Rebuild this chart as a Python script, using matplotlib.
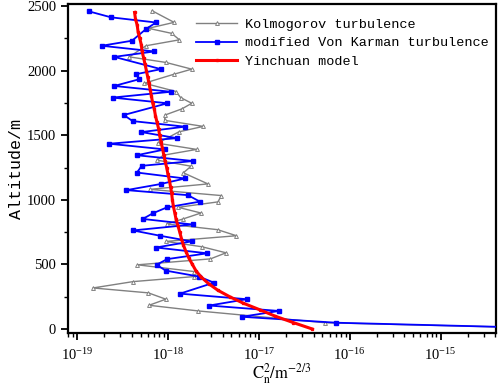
import matplotlib
matplotlib.use("Agg")
import matplotlib.pyplot as plt
from matplotlib.ticker import LogLocator, MultipleLocator, NullFormatter, FixedLocator

plt.rcParams['mathtext.fontset'] = 'stix'

# ---- data ----
kolmo_alt = [0, 49, 140, 184, 231, 280, 318, 367, 406, 445, 497, 543, 590, 637, 678,
             722, 769, 813, 852, 898, 942, 984, 1033, 1081, 1123, 1209, 1260, 1307,
             1345, 1390, 1438, 1526, 1568, 1615, 1656, 1704, 1747, 1791, 1838, 1902,
             1972, 2011, 2063, 2106, 2192, 2238, 2288, 2327, 2373, 2463]
kolmo_cn2 = [4e-14, 5.35e-17, 2.17e-18, 6.2e-19, 9.5e-19, 6.1e-19, 1.5e-19, 4.13e-19,
             1.94e-18, 1.94e-18, 4.63e-19, 2.94e-18, 4.36e-18, 2.36e-18, 9.5e-19,
             5.68e-18, 3.52e-18, 9.7e-19, 1.47e-18, 2.31e-18, 1.30e-18, 3.56e-18,
             3.86e-18, 6.3e-19, 2.76e-18, 1.48e-18, 1.80e-18, 7.6e-19, 8.9e-19,
             2.07e-18, 7.7e-19, 1.32e-18, 2.45e-18, 9.2e-19, 9.3e-19, 1.43e-18,
             1.83e-18, 1.38e-18, 1.23e-18, 5.5e-19, 1.17e-18, 1.83e-18, 9.5e-19,
             3.76e-19, 5.74e-19, 1.34e-18, 1.10e-18, 6.1e-19, 1.17e-18, 6.7e-19]

vk_alt = [0, 49, 95, 140, 182, 231, 274, 359, 406, 452, 497, 541, 586, 631, 678,
          722, 763, 809, 852, 895, 942, 986, 1036, 1075, 1122, 1165, 1211, 1263,
          1300, 1345, 1390, 1434, 1477, 1524, 1566, 1609, 1656, 1747, 1791, 1836,
          1881, 1933, 1972, 2011, 2106, 2148, 2192, 2231, 2321, 2372, 2412, 2459]
vk_cn2 = [4e-14, 7.13e-17, 6.49e-18, 1.67e-17, 2.85e-18, 7.36e-18, 1.36e-18, 3.21e-18,
          2.20e-18, 9.5e-19, 7.5e-19, 9.8e-19, 2.71e-18, 7.4e-19, 1.82e-18, 8.2e-19,
          4.13e-19, 1.87e-18, 5.3e-19, 6.8e-19, 9.8e-19, 2.25e-18, 1.66e-18, 3.5e-19,
          8.3e-19, 1.54e-18, 4.57e-19, 5.15e-19, 1.90e-18, 4.54e-19, 9.3e-19, 2.26e-19,
          1.26e-18, 5.1e-19, 1.54e-18, 4.1e-19, 3.27e-19, 9.9e-19, 2.46e-19, 1.08e-18,
          2.57e-19, 4.84e-19, 4.46e-19, 8.4e-19, 2.57e-19, 7.1e-19, 1.87e-19, 4.03e-19,
          5.74e-19, 7.4e-19, 2.37e-19, 1.34e-19]

yc_alt = [0, 50, 100, 150, 200, 250, 300, 350, 400, 450, 500, 550, 600, 650, 700,
          750, 800, 850, 900, 950, 1000, 1050, 1100, 1150, 1200, 1250, 1300, 1350,
          1400, 1450, 1500, 1550, 1600, 1650, 1700, 1750, 1800, 1850, 1900, 1950,
          2000, 2050, 2100, 2150, 2200, 2250, 2300, 2350, 2400, 2450]
yc_cn2 = [3.89e-17, 2.40e-17, 1.51e-17, 1.02e-17, 6.76e-18, 4.79e-18, 3.55e-18,
          2.82e-18, 2.34e-18, 2.04e-18, 1.86e-18, 1.70e-18, 1.58e-18, 1.48e-18,
          1.41e-18, 1.35e-18, 1.29e-18, 1.23e-18, 1.19e-18, 1.15e-18, 1.12e-18,
          1.10e-18, 1.07e-18, 1.04e-18, 1.00e-18, 9.7e-19, 9.3e-19, 9.0e-19, 8.7e-19,
          8.4e-19, 8.1e-19, 7.9e-19, 7.6e-19, 7.3e-19, 7.1e-19, 6.8e-19, 6.6e-19,
          6.4e-19, 6.2e-19, 6.0e-19, 5.8e-19, 5.6e-19, 5.4e-19, 5.2e-19, 5.1e-19,
          4.9e-19, 4.7e-19, 4.6e-19, 4.4e-19, 4.3e-19]

series_labels = ["Kolmogorov turbulence", "modified Von Karman turbulence", "Yinchuan model"]
x_ticks = [1e-19, 1e-18, 1e-17, 1e-16, 1e-15]
x_label = r'$\mathrm{C_n^2/m^{-2/3}}$'
y_label = "Altitude/m"

# ---- figure ----
fig = plt.figure(figsize=(4.98, 3.90), dpi=100)
ax = fig.add_axes([0.1365, 0.146, 0.996 - 0.1365, 0.9897 - 0.146])

ax.plot(kolmo_cn2, kolmo_alt, color='#808080', lw=1.0, marker='^', ms=2.8,
        mfc='white', mec='#808080', mew=0.7, label=series_labels[0], zorder=2)
ax.plot(vk_cn2, vk_alt, color='#0000ff', lw=1.3, marker='s', ms=3.2,
        mfc='#0000ff', mec='#0000ff', label=series_labels[1], zorder=3)
ax.plot(yc_cn2, yc_alt, color='#ff0000', lw=2.2, marker='s', ms=1.4,
        mfc='#ff0000', mec='#ff0000', label=series_labels[2], zorder=4)

ax.set_xscale('log')
ax.set_xlim(7.96e-20, 4.07e-15)
ax.set_ylim(-31, 2515)

ax.xaxis.set_major_locator(FixedLocator(x_ticks))
ax.xaxis.set_minor_locator(LogLocator(base=10, subs=range(2, 10), numticks=20))
ax.xaxis.set_minor_formatter(NullFormatter())
ax.yaxis.set_major_locator(MultipleLocator(500))
ax.yaxis.set_minor_locator(MultipleLocator(250))

ax.tick_params(axis='both', which='major', direction='out', length=5, width=1.3,
               labelsize=10.5, top=False, right=False)
ax.tick_params(axis='both', which='minor', direction='out', length=3, width=1.0,
               top=False, right=False)
ax.tick_params(axis='x', which='major', pad=5)
for lab in ax.get_xticklabels() + ax.get_yticklabels():
    lab.set_fontfamily('Liberation Serif')

for sp in ax.spines.values():
    sp.set_linewidth(1.6)

ax.set_xlabel(x_label, fontsize=12, labelpad=-1)
ax.set_ylabel(y_label, fontsize=12, family='Liberation Mono', labelpad=2)

leg = ax.legend(loc='upper right', bbox_to_anchor=(1.005, 0.985), frameon=False,
                prop={'family': 'Liberation Mono', 'size': 9.7},
                handlelength=3.0, handletextpad=0.6, labelspacing=0.45,
                borderaxespad=0.3)

fig.savefig('out.png', dpi=100)
